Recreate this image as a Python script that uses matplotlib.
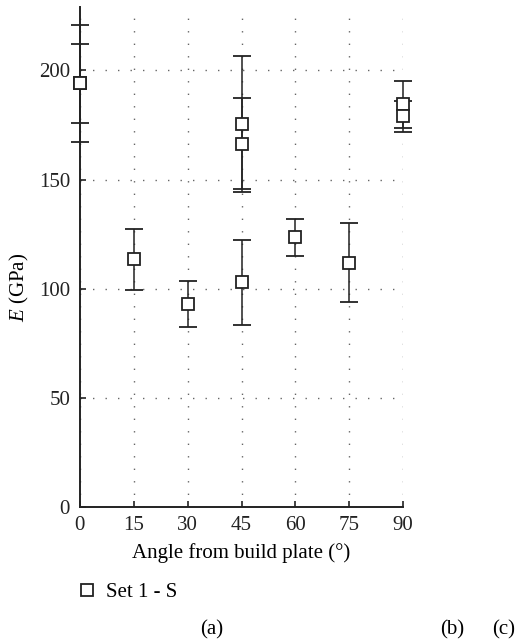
import matplotlib.pyplot as plt
from matplotlib.lines import Line2D

# valores (Set 1 - S)
angulos = [0, 0, 15, 30, 45, 45, 45, 60, 75, 90, 90]
modulo = [194, 194, 113.5, 93, 175.5, 166.5, 103, 123.5, 112, 184.5, 179]
erro = [27, 18, 14, 10.5, 31, 21, 19.5, 8.4, 18, 10.7, 7]

xticks = [0, 15, 30, 45, 60, 75, 90]
yticks = [0, 50, 100, 150, 200]

plt.rcParams['font.family'] = ['Liberation Serif', 'DejaVu Serif']
plt.rcParams['font.size'] = 15
plt.rcParams['mathtext.fontset'] = 'custom'
plt.rcParams['mathtext.rm'] = 'Liberation Serif'
plt.rcParams['mathtext.it'] = 'Liberation Serif:italic'

fig = plt.figure(figsize=(5.15, 6.42), dpi=100)
ax = fig.add_axes([0.155, 0.21, 0.628, 0.779])

ax.errorbar(angulos, modulo, yerr=erro, fmt='s', color='#222222',
            mfc='white', mec='#222222', ms=9, mew=1.3, elinewidth=1.1,
            capsize=6.5, capthick=1.1, clip_on=False, zorder=3)

ax.set_xlim(0, 90)
ax.set_ylim(0, 229)
ax.set_xticks(xticks)
ax.set_yticks(yticks)
ax.tick_params(direction='in', length=4, width=1.2, colors='#222222')
ax.tick_params(axis='x', pad=6)
ax.tick_params(axis='y', pad=7)

for s in ['top', 'right']:
    ax.spines[s].set_visible(False)
for s in ['left', 'bottom']:
    ax.spines[s].set_linewidth(1.4)
    ax.spines[s].set_color('#222222')

ax.grid(True, color='#666666', linestyle=(0, (1, 8)), linewidth=1.0)
ax.set_axisbelow(True)

ax.set_xlabel('Angle from build plate (°)', labelpad=6)
ax.set_ylabel('$\\mathit{E}$ (GPa)')
ax.yaxis.set_label_coords(-0.15, 0.44)

proxy = Line2D([], [], marker='s', linestyle='none', mfc='white',
               mec='#222222', ms=9, mew=1.3)
fig.legend([proxy], ['Set 1 - S'], loc='center left',
           bbox_to_anchor=(0.112, 0.077), frameon=False,
           handlelength=1.0, handletextpad=0.4)

fig.text(0.412, 0.019, '(a)', ha='center', va='center')
fig.text(0.879, 0.019, '(b)', ha='center', va='center')
fig.text(0.977, 0.019, '(c)', ha='center', va='center')

fig.savefig('out.png', dpi=100)
